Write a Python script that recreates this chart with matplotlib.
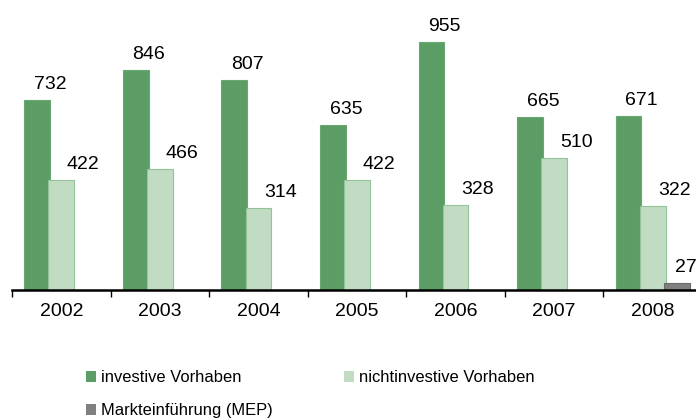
import numpy as np
import matplotlib
matplotlib.use("Agg")
import matplotlib.pyplot as plt
from matplotlib.patches import Patch

# === Daten ===
jahre = ["2002", "2003", "2004", "2005", "2006", "2007", "2008"]
investiv = [732, 846, 807, 635, 955, 665, 671]
nichtinvestiv = [422, 466, 314, 422, 328, 510, 322]
mep = [0, 0, 0, 0, 0, 0, 27]

serien = [
    ("investive Vorhaben", investiv, "#5b9d64", "#6aa872"),
    ("nichtinvestive Vorhaben", nichtinvestiv, "#c2dcc4", "#93c398"),
    ("Markteinführung (MEP)", mep, "#808080", "#6a6a6a"),
]

plt.rcParams["font.family"] = ["Liberation Sans", "DejaVu Sans"]

fig = plt.figure(figsize=(6.96, 4.19), dpi=100)
ax = fig.add_axes([12 / 696, 129 / 419, 690 / 696, 290 / 419])

x = np.arange(len(jahre))
breite = 0.26
abstand = 0.245
label_dx = [13, 22, 9]  # Versatz der Werte nach rechts (Pixel)

for i, (name, werte, farbe, rand) in enumerate(serien):
    pos = x + (i - 1) * abstand
    for p, w in zip(pos, werte):
        if w <= 0:
            continue
        ax.bar(p, w, width=breite, color=farbe, edgecolor=rand, linewidth=0.8, zorder=2)
        ax.annotate(str(w), (p, w), xytext=(label_dx[i], 7), textcoords="offset pixels",
                    ha="center", va="bottom", fontsize=14, color="black")

ax.set_xlim(-0.5, len(jahre) - 0.5)
ax.set_ylim(0, 1117)

# Achse
for s in ["top", "right", "left"]:
    ax.spines[s].set_visible(False)
ax.spines["bottom"].set_linewidth(1.8)
ax.set_yticks([])
ax.set_xticks(np.arange(len(jahre) + 1) - 0.5)
ax.set_xticklabels([])
ax.tick_params(axis="x", which="major", length=5, width=1.0, direction="out")
ax.set_xticks(x, minor=True)
ax.set_xticklabels(jahre, minor=True, fontsize=14)
ax.tick_params(axis="x", which="minor", length=0, pad=9)

# Legende (zeilenweise: Reihenfolge fuer ncol=2 umsortieren)
handles = [Patch(facecolor=f, edgecolor="none") for _, _, f, _ in serien]
labels = [n for n, _, _, _ in serien]
reihenfolge = [0, 2, 1]
fig.legend([handles[k] for k in reihenfolge], [labels[k] for k in reihenfolge],
           loc="upper left", bbox_to_anchor=(78 / 696, 1 - 362 / 419),
           ncol=2, frameon=False, fontsize=11.9, handlelength=0.6, handleheight=0.6,
           handletextpad=0.3, columnspacing=4.3, labelspacing=1.1, borderpad=0)

fig.savefig("out.png", dpi=100)
